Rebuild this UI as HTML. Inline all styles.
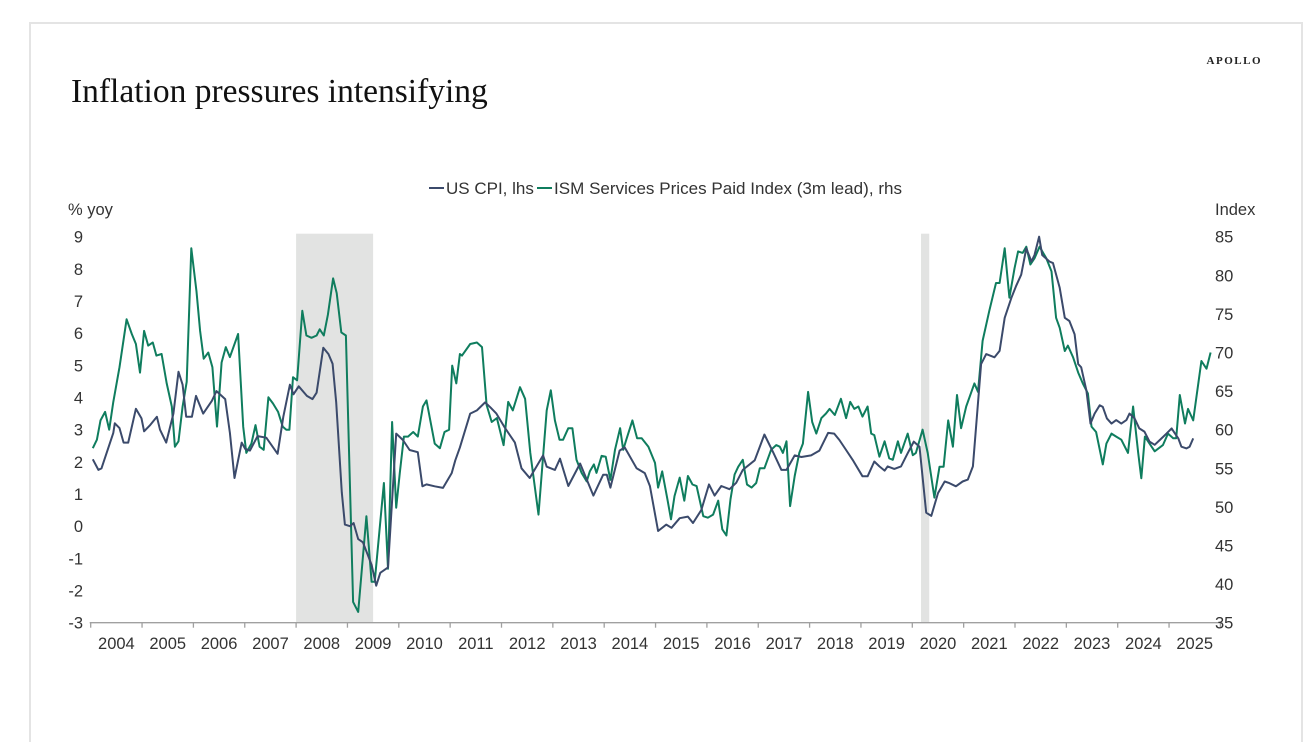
<!DOCTYPE html>
<html><head><meta charset="utf-8"><style>
html,body{margin:0;padding:0;background:#fff;}
body{width:1316px;height:734px;position:relative;overflow:hidden;font-family:"Liberation Sans",sans-serif;}
#card{position:absolute;left:29px;top:22px;width:1274px;height:720px;border:2px solid #e4e4e4;border-bottom:none;box-sizing:border-box;}
</style></head><body>
<div id="card"></div>
<svg id="chart" width="1316" height="734" style="position:absolute;left:0;top:0">
<text x="71" y="102" font-family="Liberation Serif, serif" font-size="33.5" fill="#111">Inflation pressures intensifying</text>
<text x="1262" y="64" text-anchor="end" font-family="Liberation Serif, serif" font-size="11" font-weight="bold" letter-spacing="1.5" fill="#222">APOLLO</text>
<text x="68" y="215" font-size="16.5" fill="#333">% yoy</text>
<text x="1215" y="215" font-size="16.5" fill="#333">Index</text>
<g>
<line x1="429" y1="188" x2="444" y2="188" stroke="#3b4a6b" stroke-width="2"/>
<text x="446" y="194" font-size="17" fill="#333">US CPI, lhs</text>
<line x1="537" y1="188" x2="552" y2="188" stroke="#0f7d5e" stroke-width="2"/>
<text x="554" y="194" font-size="17" fill="#333" textLength="348">ISM Services Prices Paid Index (3m lead), rhs</text>
</g>
<g id="shade"></g><g id="axes"></g><g id="lines"></g>
</svg>
<script>
const recessionStart=[2008.0,2020.17];
const recessionEnd=[2009.5,2020.33];
const leftTicks=[9,8,7,6,5,4,3,2,1,0,-1,-2,-3];
const rightTicks=[85,80,75,70,65,60,55,50,45,40,35];
const yearLabels=[2004,2005,2006,2007,2008,2009,2010,2011,2012,2013,2014,2015,2016,2017,2018,2019,2020,2021,2022,2023,2024,2025];
const cpiDates=[2004.04,2004.15,2004.21,2004.44,2004.47,2004.56,2004.64,2004.73,2004.88,2004.99,2005.04,2005.16,2005.29,2005.35,2005.47,2005.61,2005.71,2005.79,2005.86,2005.97,2006.05,2006.19,2006.36,2006.45,2006.62,2006.71,2006.80,2006.94,2007.01,2007.10,2007.25,2007.42,2007.64,2007.75,2007.88,2007.95,2008.05,2008.21,2008.32,2008.40,2008.53,2008.63,2008.71,2008.78,2008.89,2008.95,2009.05,2009.12,2009.21,2009.30,2009.47,2009.56,2009.64,2009.79,2009.95,2010.08,2010.21,2010.37,2010.46,2010.54,2010.70,2010.86,2011.03,2011.10,2011.19,2011.39,2011.52,2011.68,2011.78,2011.90,2012.07,2012.26,2012.39,2012.55,2012.81,2012.88,2013.04,2013.14,2013.30,2013.53,2013.79,2013.98,2014.05,2014.12,2014.30,2014.40,2014.63,2014.79,2014.89,2015.05,2015.21,2015.31,2015.47,2015.63,2015.73,2015.89,2016.04,2016.15,2016.28,2016.44,2016.57,2016.70,2016.93,2017.12,2017.29,2017.45,2017.55,2017.71,2017.84,2018.03,2018.19,2018.36,2018.48,2018.58,2018.71,2018.84,2019.03,2019.13,2019.26,2019.36,2019.46,2019.52,2019.65,2019.78,2019.91,2020.03,2020.14,2020.27,2020.37,2020.50,2020.63,2020.72,2020.85,2020.98,2021.08,2021.18,2021.34,2021.44,2021.60,2021.70,2021.80,2021.93,2022.02,2022.12,2022.22,2022.32,2022.38,2022.47,2022.53,2022.67,2022.74,2022.87,2022.97,2023.06,2023.16,2023.23,2023.29,2023.39,2023.47,2023.55,2023.65,2023.71,2023.79,2023.88,2023.97,2024.07,2024.17,2024.23,2024.33,2024.42,2024.52,2024.62,2024.72,2024.82,2024.95,2025.05,2025.18,2025.24,2025.34,2025.40,2025.47];
const cpiValues=[2.08,1.75,1.8,2.9,3.2,3.05,2.6,2.6,3.65,3.35,2.95,3.15,3.4,3.0,2.6,3.5,4.8,4.4,3.4,3.4,4.05,3.5,3.9,4.2,3.95,2.9,1.5,2.6,2.4,2.35,2.8,2.75,2.25,3.4,4.4,4.1,4.35,4.05,3.95,4.15,5.55,5.35,5.05,3.85,1.05,0.05,0.0,0.1,-0.4,-0.5,-1.2,-1.85,-1.45,-1.28,2.88,2.68,2.37,2.3,1.24,1.3,1.24,1.19,1.65,2.05,2.45,3.5,3.6,3.85,3.7,3.5,3.05,2.6,1.8,1.5,2.2,1.85,1.75,2.1,1.25,1.95,0.95,1.6,1.6,1.2,2.35,2.45,1.8,1.65,1.25,-0.15,0.05,-0.05,0.25,0.3,0.1,0.5,1.3,0.95,1.25,1.15,1.35,1.75,2.05,2.85,2.3,1.75,1.75,2.2,2.15,2.2,2.35,2.9,2.88,2.68,2.37,2.06,1.55,1.55,2.01,1.86,1.73,1.86,1.78,1.86,2.27,2.63,2.47,0.42,0.32,1.03,1.39,1.34,1.24,1.39,1.45,1.86,5.04,5.35,5.25,5.45,6.48,7.10,7.46,7.82,8.64,8.23,8.43,9.0,8.43,8.23,8.18,7.41,6.48,6.38,5.97,5.04,4.94,4.22,3.19,3.50,3.76,3.71,3.35,3.19,3.30,3.19,3.30,3.50,3.35,3.04,2.94,2.63,2.53,2.68,2.88,3.04,2.73,2.47,2.42,2.47,2.73];
const ismDates=[2004.04,2004.12,2004.19,2004.28,2004.36,2004.44,2004.56,2004.70,2004.80,2004.88,2004.96,2005.04,2005.12,2005.21,2005.28,2005.38,2005.48,2005.58,2005.64,2005.71,2005.79,2005.87,2005.96,2006.06,2006.13,2006.20,2006.29,2006.37,2006.46,2006.55,2006.63,2006.71,2006.87,2006.97,2007.03,2007.13,2007.21,2007.29,2007.37,2007.46,2007.55,2007.65,2007.74,2007.81,2007.87,2007.94,2008.02,2008.12,2008.20,2008.30,2008.40,2008.46,2008.54,2008.62,2008.72,2008.79,2008.88,2008.97,2009.11,2009.21,2009.37,2009.47,2009.53,2009.71,2009.79,2009.87,2009.95,2010.02,2010.10,2010.18,2010.28,2010.37,2010.47,2010.54,2010.70,2010.80,2010.89,2010.98,2011.04,2011.12,2011.19,2011.23,2011.39,2011.52,2011.62,2011.71,2011.81,2011.91,2012.04,2012.13,2012.22,2012.36,2012.46,2012.56,2012.72,2012.88,2012.96,2013.04,2013.13,2013.20,2013.30,2013.38,2013.46,2013.56,2013.66,2013.72,2013.80,2013.85,2013.95,2014.03,2014.12,2014.21,2014.31,2014.37,2014.43,2014.55,2014.64,2014.73,2014.86,2014.99,2015.05,2015.13,2015.23,2015.30,2015.37,2015.47,2015.56,2015.63,2015.72,2015.80,2015.93,2016.02,2016.12,2016.22,2016.30,2016.38,2016.46,2016.54,2016.61,2016.70,2016.78,2016.87,2016.96,2017.03,2017.12,2017.25,2017.35,2017.42,2017.48,2017.55,2017.62,2017.71,2017.80,2017.87,2017.97,2018.05,2018.13,2018.23,2018.32,2018.39,2018.49,2018.61,2018.71,2018.79,2018.87,2018.95,2019.03,2019.13,2019.20,2019.26,2019.36,2019.46,2019.55,2019.62,2019.72,2019.78,2019.91,2020.01,2020.07,2020.20,2020.30,2020.43,2020.53,2020.61,2020.70,2020.79,2020.87,2020.95,2021.05,2021.21,2021.28,2021.37,2021.50,2021.63,2021.70,2021.80,2021.89,2021.99,2022.06,2022.15,2022.22,2022.30,2022.38,2022.48,2022.61,2022.71,2022.80,2022.87,2022.97,2023.03,2023.13,2023.23,2023.32,2023.42,2023.49,2023.58,2023.71,2023.78,2023.88,2023.97,2024.07,2024.20,2024.30,2024.40,2024.46,2024.53,2024.62,2024.72,2024.88,2024.98,2025.08,2025.14,2025.21,2025.31,2025.37,2025.47,2025.63,2025.73,2025.81];
const ismValues=[57.6,58.7,61.2,62.3,60.0,63.6,68.1,74.3,72.4,71.1,67.4,72.8,70.9,71.3,69.6,69.8,66.0,63.0,57.8,58.5,63.0,66.2,83.5,77.9,72.8,69.2,70.0,68.1,60.4,68.7,70.7,69.4,72.4,60.4,57.0,58.2,60.6,57.8,57.4,64.2,63.4,62.3,60.4,60.0,60.0,66.8,66.4,75.4,72.2,71.9,72.2,73.0,72.2,74.9,79.6,77.7,72.6,72.2,37.7,36.4,48.8,40.3,40.3,53.1,42.0,61.0,49.9,54.4,59.1,59.1,59.7,59.1,63.0,63.8,58.2,57.6,59.7,60.0,68.3,66.0,69.8,69.6,71.1,71.3,70.7,63.2,61.0,61.5,58.0,63.6,62.5,65.5,64.0,57.0,49.0,62.5,65.1,61.2,58.7,58.7,60.2,60.2,56.1,54.4,53.3,54.6,55.5,54.4,56.6,56.5,53.5,57.4,60.2,57.4,58.7,61.2,58.9,58.9,57.8,55.7,52.5,54.6,51.0,48.4,51.4,53.8,50.8,54.0,52.9,52.7,48.8,48.6,49.0,50.8,47.1,46.3,51.0,54.2,55.2,56.1,52.9,52.5,53.1,55.0,55.0,57.4,58.0,57.8,57.0,58.5,50.1,54.0,57.0,58.2,64.9,61.0,59.5,61.5,62.1,62.7,61.9,64.0,61.5,63.6,62.7,63.0,61.7,63.0,59.5,59.3,56.5,58.5,56.3,56.1,58.5,57.0,59.5,56.7,57.0,60.0,57.0,51.2,55.2,55.2,61.2,57.8,64.5,60.2,63.0,66.0,64.9,71.5,75.4,79.0,79.0,83.5,77.1,80.9,83.1,82.9,83.7,81.4,82.2,83.7,82.2,80.5,74.5,73.2,70.2,70.9,69.4,67.4,66.0,64.7,60.4,59.7,55.5,58.2,59.5,59.1,58.7,57.0,63.0,57.0,53.7,59.1,58.2,57.2,58.0,59.5,58.9,58.9,64.5,60.8,62.7,61.2,68.9,67.9,70.0];

const NS='http://www.w3.org/2000/svg';
const X0=90.7, XW=51.35, YB=622.7, YT=236.7;
function xs(yr){return X0+(yr-2004)*XW;}
function yl(v){return YB-(v+3)/12*(YB-YT);}
function yr(v){return YB-(v-35)/50*(YB-YT);}
function mk(tag,attrs,parent){const e=document.createElementNS(NS,tag);for(const k in attrs)e.setAttribute(k,attrs[k]);parent.appendChild(e);return e;}
const shade=document.getElementById('shade'),axes=document.getElementById('axes'),lines=document.getElementById('lines');
for(let i=0;i<recessionStart.length;i++){
  const r=mk('rect',{x:xs(recessionStart[i]),y:YT-3,width:xs(recessionEnd[i])-xs(recessionStart[i]),height:YB-YT+3,fill:'#e2e3e2'},shade);
  
  
}
const ax=mk('line',{x1:X0-1,y1:YB,x2:xs(2026)+2,y2:YB,stroke:'#a0a0a0','stroke-width':1.3},axes);


for(let y=2004;y<=2026;y++){
  const t=mk('line',{x1:xs(y),y1:YB,x2:xs(y),y2:YB+5,stroke:'#a0a0a0','stroke-width':1.3},axes);
  
  
}
yearLabels.forEach(y=>{
  const t=mk('text',{x:xs(y+0.5),y:649,'text-anchor':'middle','font-size':16.5,fill:'#333'},axes);
  t.textContent=y;
  
  
});
leftTicks.forEach(v=>{
  const t=mk('text',{x:83,y:yl(v)+6,'text-anchor':'end','font-size':16.5,fill:'#333'},axes);
  t.textContent=v;
  
  
});
rightTicks.forEach(v=>{
  const t=mk('text',{x:1215,y:yr(v)+6,'font-size':16.5,fill:'#333'},axes);
  t.textContent=v;
  
  
});
function path(dates,vals,f){return dates.map((d,i)=>(i?'L':'M')+xs(d).toFixed(1)+' '+f(vals[i]).toFixed(1)).join(' ');}
const ism=mk('path',{d:path(ismDates,ismValues,yr),fill:'none',stroke:'#0f7d5e','stroke-width':2,'stroke-linejoin':'round'},lines);


const cpi=mk('path',{d:path(cpiDates,cpiValues,yl),fill:'none',stroke:'#3b4a6b','stroke-width':2,'stroke-linejoin':'round'},lines);


</script>
</body></html>
